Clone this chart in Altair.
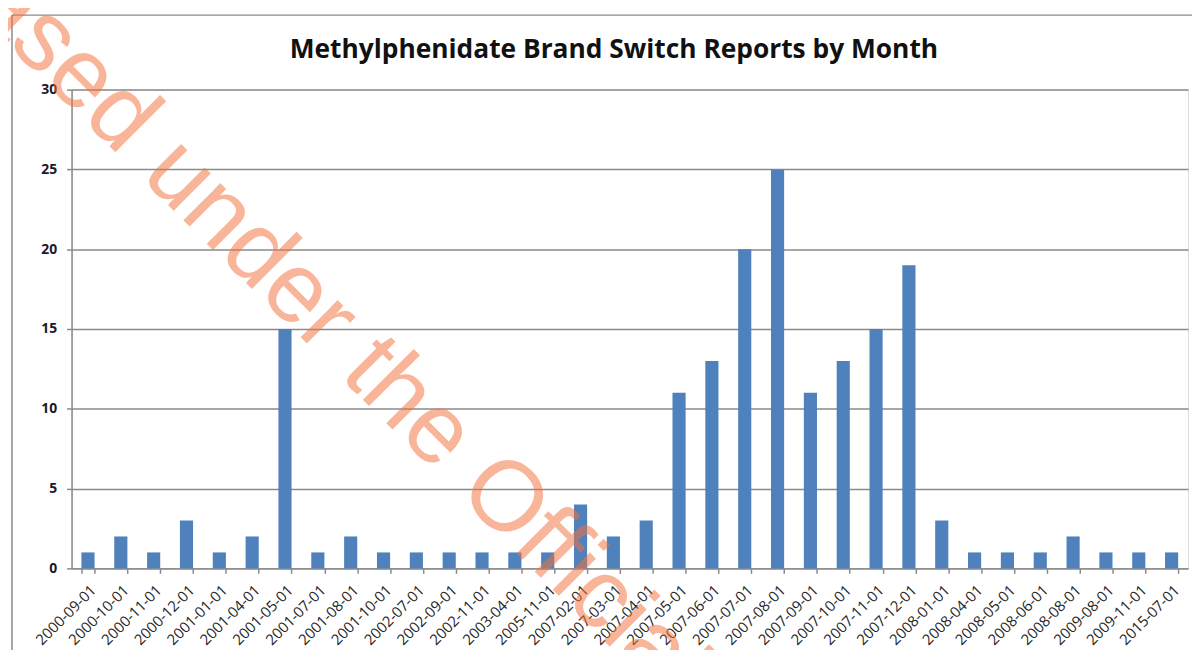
import altair as alt
import pandas as pd

months = [
    "2000-09-01", "2000-10-01", "2000-11-01", "2000-12-01", "2001-01-01",
    "2001-04-01", "2001-05-01", "2001-07-01", "2001-08-01", "2001-10-01",
    "2002-07-01", "2002-09-01", "2002-11-01", "2003-04-01", "2005-11-01",
    "2007-02-01", "2007-03-01", "2007-04-01", "2007-05-01", "2007-06-01",
    "2007-07-01", "2007-08-01", "2007-09-01", "2007-10-01", "2007-11-01",
    "2007-12-01", "2008-01-01", "2008-04-01", "2008-05-01", "2008-06-01",
    "2008-08-01", "2009-08-01", "2009-11-01", "2015-07-01",
]
reports = [
    1, 2, 1, 3, 1,
    2, 15, 1, 2, 1,
    1, 1, 1, 1, 1,
    4, 2, 3, 11, 13,
    20, 25, 11, 13, 15,
    19, 3, 1, 1, 1,
    2, 1, 1, 1,
]
y_ticks = [0, 5, 10, 15, 20, 25, 30]
title_text = ["Methylphenidate Brand Switch Reports by Month"]
watermark_text = ["Released under the Official Information Act"]

df = pd.DataFrame({"month": months, "reports": reports})
wm = pd.DataFrame({"t": watermark_text})
tt = pd.DataFrame({"t": title_text})
one = pd.DataFrame({"k": [0]})

GRID = "#8a8a8a"

bars = alt.Chart(df).mark_bar(color="#4F81BD").encode(
    x=alt.X(
        "month:N",
        sort=None,
        title=None,
        scale=alt.Scale(paddingInner=0.6, paddingOuter=0.3),
        axis=alt.Axis(
            labelAngle=-45,
            labelFont="Open Sans",
            labelFontSize=15,
            labelColor="#262626",
            tickBand="extent",
            tickSize=5,
            tickColor=GRID,
            tickWidth=1.5,
            domainColor=GRID,
            domainWidth=1.5,
            labelPadding=9,
            grid=False,
        ),
    ),
    y=alt.Y(
        "reports:Q",
        title=None,
        scale=alt.Scale(domain=[0, 30], nice=False),
        axis=alt.Axis(
            values=y_ticks,
            labelFont="Open Sans",
            labelFontSize=14,
            labelFontWeight="bold",
            labelColor="#1a1a2a",
            labelPadding=10,
            tickSize=5,
            tickColor=GRID,
            tickWidth=1.5,
            domainColor=GRID,
            domainWidth=1.5,
            gridColor=GRID,
            gridWidth=1.5,
            gridOpacity=1,
        ),
    ),
)

frame_left = alt.Chart(one).mark_rule(color=GRID, strokeWidth=1.5).encode(
    x=alt.value(-60), y=alt.value(-75), y2=alt.value(600)
)
frame_top = alt.Chart(one).mark_rule(color=GRID, strokeWidth=1.5).encode(
    x=alt.value(-60), x2=alt.value(1140), y=alt.value(-75)
)

title = alt.Chart(tt).mark_text(
    align="center",
    baseline="alphabetic",
    font="Open Sans",
    fontSize=26.5,
    fontWeight="bold",
    color="#111111",
).encode(x=alt.value(546), y=alt.value(-32), text="t:N")

watermark = alt.Chart(wm).mark_text(
    angle=45,
    align="left",
    baseline="alphabetic",
    font="Liberation Sans",
    fontSize=100,
    color="#F4733E",
    opacity=0.52,
).encode(x=alt.value(-250), y=alt.value(-231), text="t:N")

chart = alt.layer(frame_left, frame_top, title, bars, watermark).properties(
    width=1124,
    height=482,
    autosize=alt.AutoSizeParams(type="none"),
    padding={"left": 64, "top": 80, "right": 4, "bottom": 80},
).configure_view(stroke=None).configure(background="white")

chart.save("out.html", embed_options={"renderer": "svg", "actions": False})
